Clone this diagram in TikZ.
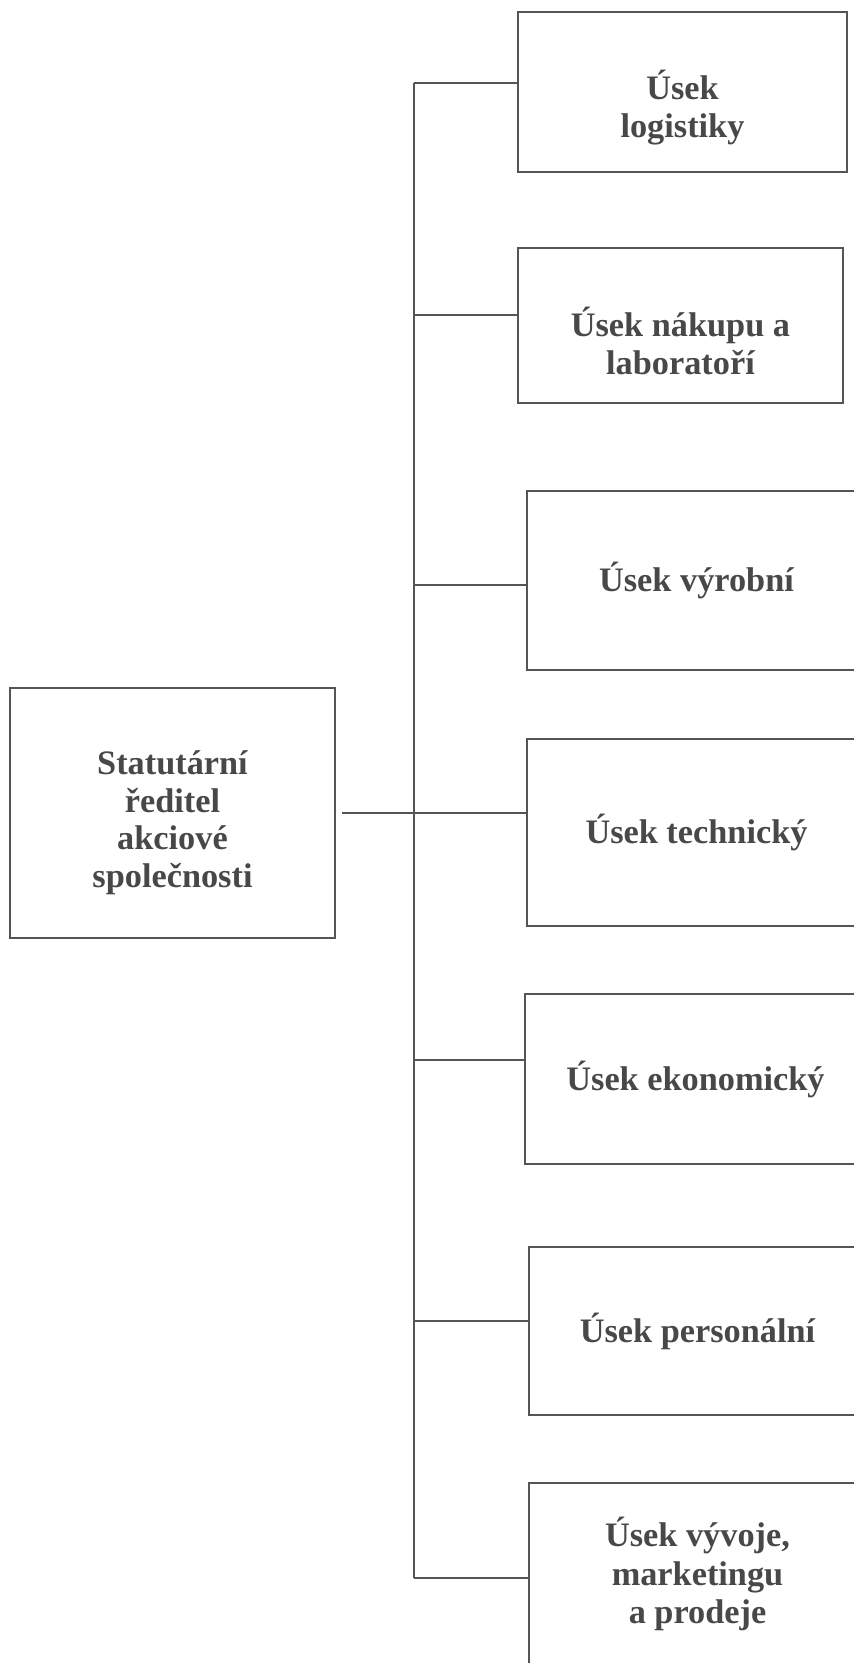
\documentclass[tikz,border=0pt]{standalone}
\usepackage{fontspec}
\setmainfont{Liberation Serif}
\definecolor{ink}{HTML}{555555}
\definecolor{txt}{HTML}{484848}
\begin{document}
\begin{tikzpicture}[x=1pt,y=-1pt,
  boxst/.style={draw=ink, line width=2.5pt, inner sep=0pt, align=center,
     text=txt, font=\bfseries\fontsize{34.3}{38}\selectfont},
  lbl/.style={inner sep=0pt, align=center, text=txt,
     font=\bfseries\fontsize{34.3}{38}\selectfont},
  wire/.style={draw=ink, line width=2.5pt}]
\useasboundingbox (0,0) rectangle (854,1663);
% left box
\node[boxst, minimum width=325pt, minimum height=250pt] (l) at (172.5,813) {};
\node[lbl, font=\bfseries\fontsize{34.3}{37.5}\selectfont] (tl) at (172.5,822.5)
  {Statutární\\ředitel\\akciové\\společnosti};
% right boxes
\node[boxst, minimum width=329pt, minimum height=160pt] (b1) at (682.5,92) {};
\node[lbl] (t1) at (682.5,108) {Úsek\\logistiky};
\node[boxst, minimum width=325pt, minimum height=155pt] (b2) at (680.5,325.5) {};
\node[lbl] (t2) at (680.5,341) {Úsek nákupu a\\laboratoří};
\node[boxst, minimum width=339pt, minimum height=179pt] (b3) at (696.5,580.5) {Úsek výrobní};
\node[boxst, minimum width=339pt, minimum height=187pt] (b4) at (696.5,832.5) {Úsek technický};
\node[boxst, minimum width=341pt, minimum height=170pt] (b5) at (695.5,1079) {Úsek ekonomický};
\node[boxst, minimum width=337pt, minimum height=168pt] (b6) at (697.5,1331) {Úsek personální};
\node[boxst, minimum width=337pt, minimum height=210pt] (b7) at (697.5,1588) {};
\node[lbl, font=\bfseries\fontsize{34.3}{38.5}\selectfont] (t7) at (697.5,1574) {Úsek vývoje,\\marketingu\\a prodeje};
% bus
\coordinate (j1) at (414,83);
\coordinate (j2) at (414,315);
\coordinate (j3) at (414,585);
\coordinate (j5) at (414,1060);
\coordinate (j6) at (414,1321);
\coordinate (j7) at (414,1578);
\draw[wire] (j1) -- (j7);
\draw[wire] (j1) -- (j1 -| b1.west);
\draw[wire] (j2) -- (j2 -| b2.west);
\draw[wire] (j3) -- (j3 -| b3.west);
\draw[wire] (j5) -- (j5 -| b5.west);
\draw[wire] (j6) -- (j6 -| b6.west);
\draw[wire] (j7) -- (j7 -| b7.west);
\draw[wire, shorten <=6pt] (l.east) -- (l.east -| b4.west);
\end{tikzpicture}
\end{document}
